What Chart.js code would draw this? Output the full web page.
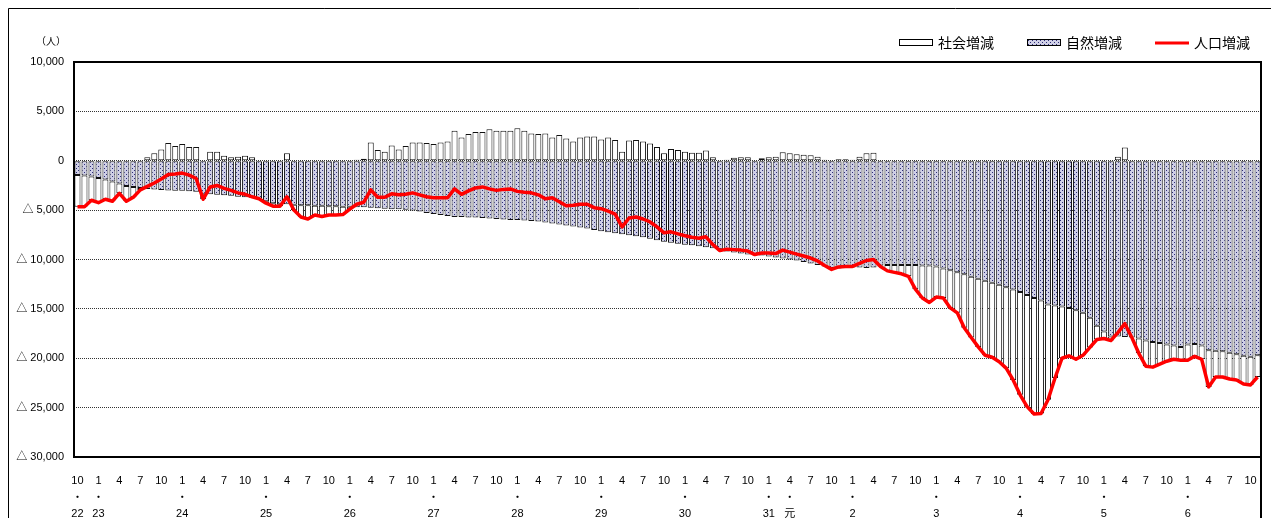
<!DOCTYPE html>
<html lang="ja">
<head>
<meta charset="utf-8">
<title>人口増減の推移</title>
<script src="https://cdn.jsdelivr.net/npm/chart.js@4.4.1/dist/chart.umd.min.js"></script>
<style>
  html, body { margin: 0; padding: 0; background: #fff; overflow: hidden; }
  #wrap { position: relative; width: 1271px; height: 518px; }
</style>
</head>
<body>
<div id="wrap"><canvas id="chart"></canvas></div>
<script>
// 月次：平成22年10月 ～ 令和6年11月
const startYear = 2010, startMonth = 10, monthCount = 170;

const monthTickText = ['1', '4', '7', '10'];
const yearTickAt = ['2010/10', '2011/1', '2012/1', '2013/1', '2014/1', '2015/1', '2016/1', '2017/1',
                    '2018/1', '2019/1', '2019/4', '2020/1', '2021/1', '2022/1', '2023/1', '2024/1'];
const yearTickText = ['22', '23', '24', '25', '26', '27', '28', '29', '30', '31', '元', '2', '3', '4', '5', '6'];

// 自然増減
const naturalChange = [
  -1450, -1500, -1600,
  -1750, -1900, -2100, -2300, -2550, -2650, -2750, -2850, -2900, -2950, -3000, -3050,
  -3050, -3100, -3150, -3350, -3400, -3450, -3500, -3550, -3650, -3700, -3750, -3850,
  -4100, -4300, -4400, -4400, -4450, -4500, -4500, -4550, -4550, -4600, -4600, -4650,
  -4650, -4700, -4700, -4750, -4800, -4850, -4900, -4900, -4950, -5050, -5150, -5300,
  -5400, -5500, -5600, -5700, -5700, -5750, -5750, -5800, -5850, -5900, -5950, -6000,
  -6000, -6050, -6100, -6150, -6250, -6350, -6450, -6550, -6650, -6750, -6850, -7000,
  -7150, -7250, -7350, -7450, -7550, -7650, -7750, -7900, -8050, -8200, -8300, -8400,
  -8500, -8550, -8650, -8750, -8850, -8950, -9200, -9300, -9400, -9500, -9550, -9600,
  -9700, -9800, -9900, -10000, -10100, -10250, -10400, -10550, -10700, -10850, -10900, -10850,
  -10800, -10800, -10850, -10800, -10600, -10550, -10550, -10550, -10550, -10550, -10600, -10600,
  -10700, -10900, -11100, -11300, -11500, -11750, -11950, -12150, -12350, -12550, -12800, -13050,
  -13300, -13600, -13900, -14150, -14550, -14650, -14750, -14900, -15150, -15400, -15900, -16700,
  -17300, -17800, -17800, -17850, -17900, -18000, -18200, -18350, -18450, -18600, -18700, -18850,
  -18600, -18550, -18700, -19200, -19250, -19300, -19450, -19600, -19750, -19850, -19700
];

// 社会増減
const socialChange = [
  -3200, -3150, -2400,
  -2500, -2000, -2000, -1000, -1550, -1050, -200, 350, 750, 1150, 1800, 1500,
  1700, 1400, 1400, -550, 900, 900, 500, 350, 400, 500, 350, 0,
  -200, -300, -200, 750, -550, -1200, -1400, -950, -1100, -900, -900, -800,
  -250, 100, 200, 1850, 1100, 900, 1550, 1150, 1500, 1850, 1850, 1800,
  1700, 1850, 1950, 3050, 2350, 2700, 2900, 2900, 3200, 3050, 3050, 3050,
  3300, 3050, 2750, 2700, 2750, 2350, 2600, 2250, 1950, 2350, 2450, 2450,
  2150, 2350, 2100, 900, 2050, 2100, 1950, 1750, 1400, 750, 1200, 1100,
  900, 800, 800, 1050, 350, -150, 100, 300, 350, 350, 50, 250,
  350, 400, 850, 750, 650, 600, 550, 400, 100, -150, 150, 150,
  100, 400, 750, 800, -100, -600, -750, -900, -1150, -2450, -3300, -3750,
  -3100, -3000, -3800, -4100, -5400, -6150, -6900, -7550, -7550, -7800, -8200, -9150,
  -10400, -11300, -11750, -11450, -9650, -7350, -5250, -4850, -4950, -4300, -3000, -1400,
  -700, -400, 400, 1350, 0, -1500, -2600, -2550, -2150, -1700, -1400, -1350,
  -1600, -1250, -1400, -3700, -2650, -2600, -2650, -2600, -2850, -2850, -2200
];

// 人口増減
const totalChange = [
  -4650, -4650, -4000,
  -4250, -3900, -4100, -3300, -4100, -3700, -2950, -2600, -2250, -1850, -1400, -1350,
  -1250, -1450, -1800, -3900, -2650, -2500, -2800, -3000, -3250, -3400, -3650, -3850,
  -4300, -4600, -4600, -3650, -5000, -5700, -5900, -5500, -5650, -5500, -5500, -5450,
  -4900, -4400, -4200, -2950, -3700, -3700, -3350, -3450, -3400, -3250, -3450, -3650,
  -3750, -3750, -3750, -2850, -3400, -3050, -2750, -2650, -2850, -3000, -2900, -2850,
  -3100, -3200, -3250, -3450, -3850, -3750, -4150, -4550, -4500, -4400, -4400, -4750,
  -4850, -5100, -5400, -6700, -5800, -5700, -5900, -6200, -6700, -7300, -7200, -7400,
  -7600, -7750, -7850, -7700, -8500, -9100, -8950, -9000, -9050, -9150, -9500, -9350,
  -9350, -9400, -9050, -9250, -9450, -9650, -9850, -10150, -10600, -11000, -10750, -10700,
  -10700, -10400, -10100, -10000, -10700, -11150, -11300, -11450, -11700, -13000, -13900, -14350,
  -13800, -13900, -14900, -15400, -16900, -17900, -18850, -19700, -19900, -20350, -21000, -22200,
  -23700, -24900, -25650, -25600, -24200, -22000, -20000, -19750, -20100, -19700, -18900, -18100,
  -18000, -18200, -17400, -16500, -17900, -19500, -20800, -20900, -20600, -20300, -20100, -20200,
  -20200, -19800, -20100, -22900, -21900, -21900, -22100, -22200, -22600, -22700, -21900
];

const yMin = -30000, yMax = 10000, yStep = 5000;

const categories = [];
for (let k = 0; k < monthCount; k++) {
  const n = startMonth - 1 + k;
  categories.push((startYear + Math.floor(n / 12)) + '/' + (n % 12 + 1));
}

function dotPattern() {
  const c = document.createElement('canvas');
  c.width = 4; c.height = 4;
  const g = c.getContext('2d');
  g.fillStyle = '#cfcfe6';
  g.fillRect(0, 0, 4, 4);
  g.fillStyle = '#2e2e78';
  g.fillRect(0, 0, 1, 1);
  g.fillRect(2, 2, 1, 1);
  return g.createPattern(c, 'repeat');
}

const fontFamily = '"Liberation Sans", "Noto Sans CJK JP", sans-serif';

// 外枠・グラフ枠・単位
const framePlugin = {
  id: 'frame',
  afterDraw(chart) {
    const { ctx, chartArea: a } = chart;
    ctx.save();
    ctx.strokeStyle = '#000';
    ctx.lineWidth = 2;
    ctx.strokeRect(a.left, a.top, a.right - a.left, a.bottom - a.top);
    ctx.beginPath();
    ctx.moveTo(a.right, a.bottom);
    ctx.lineTo(a.right, chart.height);
    ctx.stroke();
    ctx.lineWidth = 1;
    ctx.beginPath();
    ctx.moveTo(8.5, chart.height);
    ctx.lineTo(8.5, 8.5);
    ctx.lineTo(chart.width, 8.5);
    ctx.stroke();
    ctx.fillStyle = '#000';
    ctx.font = '10px "Noto Sans CJK JP", sans-serif';
    ctx.textAlign = 'center';
    ctx.textBaseline = 'middle';
    ctx.fillText('（人）', 51, 41);
    ctx.restore();
  }
};

// 凡例（右上）
const legendPlugin = {
  id: 'topLegend',
  afterDraw(chart) {
    const ctx = chart.ctx;
    const items = ['社会増減', '自然増減', '人口増減'].map(l => chart.data.datasets.find(d => d.label === l));
    ctx.save();
    ctx.font = '14px "Noto Sans CJK JP", sans-serif';
    ctx.textBaseline = 'middle';
    ctx.textAlign = 'left';
    const y = 43;
    let x = 1250;
    for (let k = items.length - 1; k >= 0; k--) {
      const ds = items[k];
      const w = ctx.measureText(ds.label).width;
      x -= w;
      ctx.fillStyle = '#000';
      ctx.fillText(ds.label, x, y);
      x -= 5 + 34;
      if (ds.type === 'line') {
        ctx.strokeStyle = ds.borderColor;
        ctx.lineWidth = 3;
        ctx.beginPath();
        ctx.moveTo(x, y);
        ctx.lineTo(x + 34, y);
        ctx.stroke();
      } else {
        ctx.fillStyle = ds.backgroundColor;
        ctx.fillRect(x, y - 3.5, 34, 6);
        ctx.strokeStyle = '#000';
        ctx.lineWidth = 1;
        ctx.strokeRect(x + 0.5, y - 3.5, 33, 6);
      }
      x -= 33;
    }
    ctx.restore();
  }
};

const ctx = document.getElementById('chart').getContext('2d');
new Chart(ctx, {
  type: 'bar',
  data: {
    labels: categories,
    datasets: [
      {
        type: 'line',
        label: '人口増減',
        data: totalChange,
        borderColor: '#ff0000',
        borderWidth: 3.5,
        pointRadius: 0,
        tension: 0,
        borderJoinStyle: 'round',
        stack: 'total',
        order: 0
      },
      {
        label: '自然増減',
        data: naturalChange,
        backgroundColor: dotPattern(),
        borderColor: '#111',
        borderWidth: 1,
        borderSkipped: false,
        barPercentage: 0.86,
        categoryPercentage: 1,
        stack: 'bars',
        order: 1
      },
      {
        label: '社会増減',
        data: socialChange,
        backgroundColor: '#ffffff',
        borderColor: '#111',
        borderWidth: 1,
        borderSkipped: false,
        barPercentage: 0.86,
        categoryPercentage: 1,
        stack: 'bars',
        order: 2
      }
    ]
  },
  options: {
    responsive: true,
    maintainAspectRatio: false,
    animation: false,
    layout: { padding: { top: 62, right: 10, left: 0, bottom: 0 } },
    plugins: {
      legend: { display: false },
      tooltip: { enabled: false }
    },
    scales: {
      x: {
        stacked: true,
        grid: { display: false },
        border: { display: false },
        afterFit(scale) { scale.height = 61; },
        ticks: {
          autoSkip: false,
          maxRotation: 0,
          minRotation: 0,
          padding: 8,
          color: '#000',
          font: { family: fontFamily, size: 11, lineHeight: 1.5 },
          callback: function(value, index) {
            const key = categories[index];
            const m = key.split('/')[1];
            if (!monthTickText.includes(m)) return '';
            const j = yearTickAt.indexOf(key);
            return j >= 0 ? [m, '・', yearTickText[j]] : m;
          }
        }
      },
      y: {
        stacked: true,
        min: yMin,
        max: yMax,
        afterFit(scale) { scale.width = 74; },
        grid: { color: '#333', lineWidth: 1, drawTicks: false },
        border: { display: false, dash: [1, 1] },
        ticks: {
          stepSize: yStep,
          padding: 10,
          color: '#000',
          font: { family: fontFamily, size: 11 },
          callback: v => v < 0 ? '△ ' + Math.abs(v).toLocaleString('en-US') : v.toLocaleString('en-US')
        }
      }
    }
  },
  plugins: [framePlugin, legendPlugin]
});
</script>
</body>
</html>
